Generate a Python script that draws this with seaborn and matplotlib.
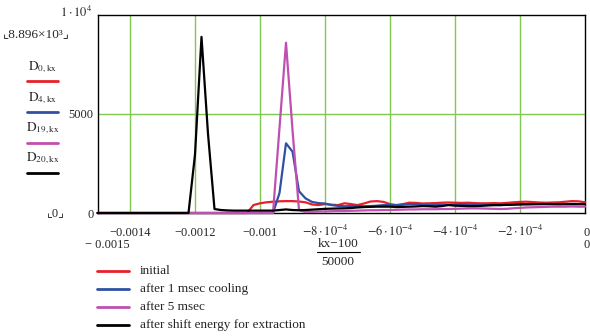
import numpy as np
import pandas as pd
import matplotlib
matplotlib.use("Agg")
import matplotlib.pyplot as plt
import seaborn as sns
from matplotlib.lines import Line2D
from matplotlib.transforms import blended_transform_factory

# ---------------- data ----------------
kx = list(range(25, 101))
D0 = [0]*24 + [400, 490, 540, 570, 590, 600, 600, 580, 540, 430,
               400, 450, 420, 400, 490, 450, 400, 480, 580, 600,
               560, 450, 400, 450, 520, 510, 480, 490, 500, 520,
               530, 520, 510, 520, 500, 490, 490, 500, 490, 510,
               540, 560, 570, 550, 530, 520, 530, 540, 570, 600,
               590, 540]
D4 = [0]*28 + [1010, 3520, 3100, 1100, 740, 560, 500, 480, 400, 360,
               340, 350, 360, 340, 350, 370, 400, 400, 390, 420,
               450, 440, 420, 400, 400, 420, 410, 430, 450, 440,
               420, 400, 410, 400, 400, 420, 430, 450, 440, 440,
               450, 460, 450, 440, 450, 460, 450, 450]
D19 = [0]*28 + [4300, 8600, 4200, 150, 50, 60, 70, 80, 90, 100,
                100, 110, 120, 130, 140, 140, 150, 150, 160, 170,
                180, 180, 190, 190, 190, 200, 200, 210, 220, 230,
                235, 230, 220, 210, 200, 210, 240, 260, 280, 290,
                300, 310, 320, 320, 320, 330, 320, 320]
D20 = [0]*15 + [2950, 8896, 4000, 200, 150, 130, 120, 120, 120, 120,
                120, 120, 120, 150, 180, 150, 140, 150, 170, 190,
                210, 220, 230, 235, 250, 280, 300, 310, 320, 320,
                320, 300, 310, 320, 330, 350, 340, 320, 350, 400,
                370, 360, 350, 350, 360, 380, 400, 400, 410, 420,
                430, 440, 450, 450, 450, 450, 450, 450, 450, 450, 450]

series_labels = ["initial", "after 1 msec cooling", "after 5 msec",
                 "after shift energy for extraction"]
short_labels = [r"$\mathrm{D}_{0,\mathrm{kx}}$", r"$\mathrm{D}_{4,\mathrm{kx}}$",
                r"$\mathrm{D}_{19,\mathrm{kx}}$", r"$\mathrm{D}_{20,\mathrm{kx}}$"]
xtick_vals = [-0.0014, -0.0012, -0.001, -0.0008, -0.0006, -0.0004, -0.0002]
xtick_text = ["\u22120.0014", "\u22120.0012", "\u22120.001",
              r"$-8\cdot10^{-4}$", r"$-6\cdot10^{-4}$", r"$-4\cdot10^{-4}$",
              r"$-2\cdot10^{-4}$"]
ytick_vals = [0, 5000]
ytick_text = ["0", "5000"]

colors = ["#e8202a", "#3050a4", "#c050b0", "#000000"]

# ---------------- build table ----------------
x = (np.array(kx) - 100) / 50000
frames = []
for lab, vals in zip(series_labels, [D0, D4, D19, D20]):
    frames.append(pd.DataFrame({"x": x, "y": vals, "series": lab}))
df = pd.concat(frames, ignore_index=True)

# ---------------- figure ----------------
sns.set_style("white")
plt.rcParams["font.family"] = ["Liberation Serif", "DejaVu Sans"]
plt.rcParams["mathtext.fontset"] = "stix"

W, H = 590, 336
fig = plt.figure(figsize=(W/100, H/100), dpi=100)
L, R, T, B = 97.5, 585, 15, 213
ax = fig.add_axes([L/W, 1 - B/H, (R-L)/W, (B-T)/H])

sns.lineplot(data=df, x="x", y="y", hue="series", palette=colors,
             hue_order=series_labels, ax=ax, legend=False, linewidth=1.6,
             estimator=None, sort=False, clip_on=False, zorder=3)

ax.set_xlim(-0.0015, 0)
ax.set_ylim(0, 10000)
ax.set_xlabel("")
ax.set_ylabel("")
for s in ax.spines.values():
    s.set_color("black")
    s.set_linewidth(1.0)

grid_c = "#80c850"
for v in xtick_vals:
    ax.axvline(v, color=grid_c, lw=1.0, zorder=1)
ax.axhline(5000, color=grid_c, lw=1.0, zorder=1)

ax.set_xticks([])
ax.set_yticks(ytick_vals)
ax.set_yticklabels(ytick_text, fontsize=9)
ax.tick_params(axis="y", length=0, pad=3)

trans = blended_transform_factory(ax.transData, ax.transAxes)
base_y = -(236 - B) / (B - T)
for v, t in zip(xtick_vals, xtick_text):
    ax.text(v, base_y, t, transform=trans, ha="center", va="baseline", fontsize=9)


def fx(px):
    return px / W


def fy(py):
    return 1 - py / H


# axis limit labels below the x axis (Mathcad style)
fig.text(fx(85), fy(248), "\u2212 0.0015", ha="left", va="baseline", fontsize=9)
fig.text(fx(584), fy(236), "0", ha="left", va="baseline", fontsize=9)
fig.text(fx(584), fy(248), "0", ha="left", va="baseline", fontsize=9)

# fraction x label
fig.text(fx(338), fy(244), "kx\u2212100", ha="center", va="center", fontsize=9.5)
fig.add_artist(Line2D([fx(317), fx(360)], [fy(252), fy(252)], color="black", lw=0.8))
fig.text(fx(338), fy(262), "50000", ha="center", va="center", fontsize=9.5)

# top-left y limit labels
fig.text(fx(60), fy(12), r"$1\cdot10^{4}$", ha="left", va="center", fontsize=9)
fig.text(fx(36), fy(34), "\u231e8.896\u00d710\u00b3\u231f", ha="center", va="center",
         fontsize=9.5)
fig.text(fx(56), fy(213), "\u231e0\u231f", ha="center", va="center", fontsize=9)

# left legend (trace names)
lab_y = [67, 98, 128, 158]
line_y = [81, 112, 143, 173]
for t, c, ly, lny in zip(short_labels, colors, lab_y, line_y):
    fig.text(fx(43), fy(ly), t, ha="center", va="center", fontsize=9.5)
    fig.add_artist(Line2D([fx(27), fx(58)], [fy(lny), fy(lny)], color=c, lw=2.0))

# bottom legend
leg_y = [271, 289, 307, 325]
for t, c, ly in zip(series_labels, colors, leg_y):
    fig.add_artist(Line2D([fx(97), fx(129)], [fy(ly), fy(ly)], color=c, lw=2.0))
    fig.text(fx(140), fy(ly), t, ha="left", va="center", fontsize=9.5)

fig.savefig("out.png", dpi=100)
